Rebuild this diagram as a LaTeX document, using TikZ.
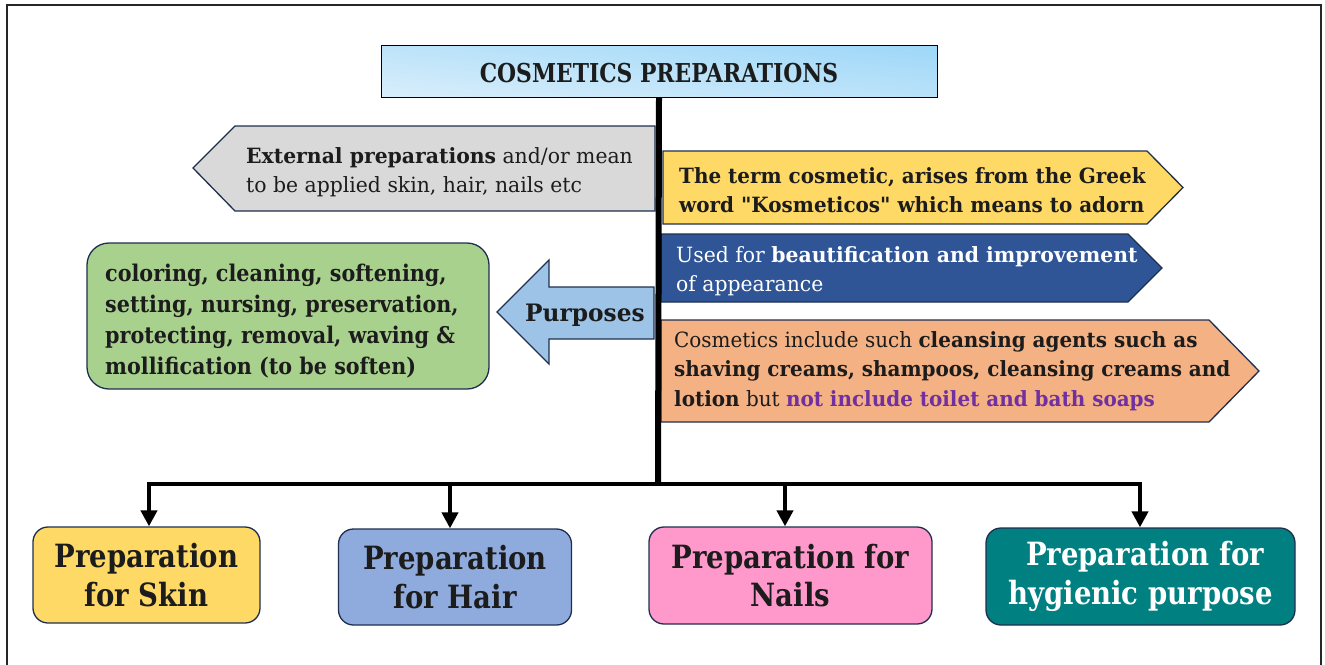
\documentclass[tikz,border=0pt]{standalone}
\usepackage{fontspec}
\setmainfont{DejaVu Serif}[FakeStretch=0.95, Ligatures=TeXOff]
\newfontfamily\listfont{DejaVu Serif}[FakeStretch=0.90, Ligatures=TeXOff]
\newfontfamily\tagfont{DejaVu Serif}[FakeStretch=0.97, Ligatures=TeXOff]
\newfontfamily\headfont{DejaVu Serif}[FakeStretch=0.84, Ligatures=TeXOff]
\newfontfamily\boxfont{DejaVu Serif}[FakeStretch=0.86, Ligatures=TeXOff]
\usetikzlibrary{arrows.meta}

\definecolor{ink}{HTML}{1C1C1C}
\definecolor{edge}{HTML}{1F2F4F}
\definecolor{titletop}{HTML}{A0D8F8}
\definecolor{titlebot}{HTML}{D6EDFB}
\definecolor{greyfill}{HTML}{D9D9D9}
\definecolor{goldfill}{HTML}{FFD966}
\definecolor{navyfill}{HTML}{2F5597}
\definecolor{peachfill}{HTML}{F4B183}
\definecolor{skyfill}{HTML}{9DC3E6}
\definecolor{leaffill}{HTML}{A9D18E}
\definecolor{hairfill}{HTML}{8FAADC}
\definecolor{pinkfill}{HTML}{FF99CC}
\definecolor{tealfill}{HTML}{008080}
\definecolor{violet}{HTML}{7030A0}

\tikzset{
  panel/.style={draw=edge, line width=1.3pt},
  blocktext/.style={anchor=west, align=left, inner sep=0pt, text=ink,
    font=\fontsize{21}{29.5}\selectfont},
  widetext/.style={blocktext, font=\tagfont\fontsize{21}{29.5}\selectfont},
  leaftext/.style={anchor=west, align=left, inner sep=0pt, text=ink,
    font=\listfont\bfseries\fontsize{23}{31.3}\selectfont},
  prepbox/.style={draw=edge, line width=1.3pt, rounded corners=15pt,
    align=center, inner sep=0pt, text=ink,
    font=\boxfont\bfseries\fontsize{32}{38.5}\selectfont},
  trunk/.style={line width=6pt, black},
  bus/.style={line width=4.5pt, black, line cap=rect},
  drop/.style={line width=4.5pt, black,
    -{Triangle[length=16pt,width=16pt]}},
}

\begin{document}
\begin{tikzpicture}[x=1pt,y=-1pt]
\useasboundingbox (0,0) rectangle (1325,664);

% outer frame
\draw[line width=2pt, black!85] (7,5) rectangle (1321,690);

% title
\node[draw=black, line width=1pt, top color=titletop, bottom color=titlebot,
      shading angle=-6, minimum width=556pt, minimum height=52pt, inner sep=0pt]
  (title) at (659,71) {};
\node[anchor=base, inner sep=0pt, text=ink, font=\headfont\bfseries\fontsize{26}{30}\selectfont]
  (titletext) at (659,82) {COSMETICS PREPARATIONS};

% left pointing grey panel
\draw[panel, fill=greyfill] (193,168) -- (235,126) -- (655,126) -- (655,211) -- (235,211) -- cycle;
\node[widetext] (external) at (246,172)
  {\textbf{External preparations} and/or mean\\to be applied skin, hair, nails etc};

% right pointing panels
\draw[panel, fill=goldfill] (663,151) -- (1147,151) -- (1183,187.5) -- (1147,224) -- (663,224) -- cycle;
\node[blocktext, font=\bfseries\fontsize{21}{29.5}\selectfont] (greek) at (679,190)
  {The term cosmetic, arises from the Greek\\word "Kosmeticos" which means to adorn};

\draw[panel, fill=navyfill] (661,234) -- (1128,234) -- (1162,268) -- (1128,302) -- (661,302) -- cycle;
\node[widetext, text=white] (beauty) at (676,271)
  {Used for \textbf{beautification and improvement}\\of appearance};

\draw[panel, fill=peachfill] (661,320) -- (1209,320) -- (1259,371) -- (1209,422) -- (661,422) -- cycle;
\node[blocktext] (cleansing) at (674,371)
  {Cosmetics include such \textbf{cleansing agents such as}\\
   \textbf{shaving creams, shampoos, cleansing creams and}\\
   \textbf{lotion} but \textcolor{violet}{\textbf{not include toilet and bath soaps}}};

% purposes arrow and its list
\draw[panel, fill=skyfill] (497,312) -- (549,260) -- (549,287) -- (654,287) -- (654,339)
  -- (549,339) -- (549,364) -- cycle;
\node[anchor=base, inner sep=0pt, text=ink, font=\tagfont\bfseries\fontsize{24}{28}\selectfont]
  (purposes) at (585,321) {Purposes};

\draw[panel, fill=leaffill, rounded corners=22pt] (87,243) rectangle (489,389);
\node[leaftext] (uses) at (105,321)
  {coloring, cleaning, softening,\\setting, nursing, preservation,\\
   protecting, removal, waving \&\\mollification (to be soften)};

% preparation categories
\node[prepbox, fill=goldfill, minimum width=227pt, minimum height=96pt] (skin) at (146.5,575)
  {Preparation\\for Skin};
\node[prepbox, fill=hairfill, minimum width=233pt, minimum height=96pt] (hair) at (455,577)
  {Preparation\\for Hair};
\node[prepbox, fill=pinkfill, minimum width=283pt, minimum height=97pt] (nails) at (790.5,575.5)
  {Preparation for\\Nails};
\node[prepbox, fill=tealfill, text=white, minimum width=309pt, minimum height=97pt] (hygiene) at (1140.5,576.5)
  {\hspace*{9pt}Preparation for\\hygienic purpose};

% connectors
\coordinate (hub) at (658,484);
\coordinate (bskin) at (149,484);
\coordinate (bhair) at (450,484);
\coordinate (bnails) at (785,484);
\coordinate (bhyg) at (1140,484);

\draw[trunk] (title.south) -- (hub);
\draw[bus] (bskin) -- (bhyg);
\draw[drop] (bskin) -- (bskin |- skin.north);
\draw[drop] (bhair) -- (bhair |- hair.north);
\draw[drop] (bnails) -- (bnails |- nails.north);
\draw[drop] (bhyg) -- (bhyg |- hygiene.north);
\end{tikzpicture}
\end{document}
